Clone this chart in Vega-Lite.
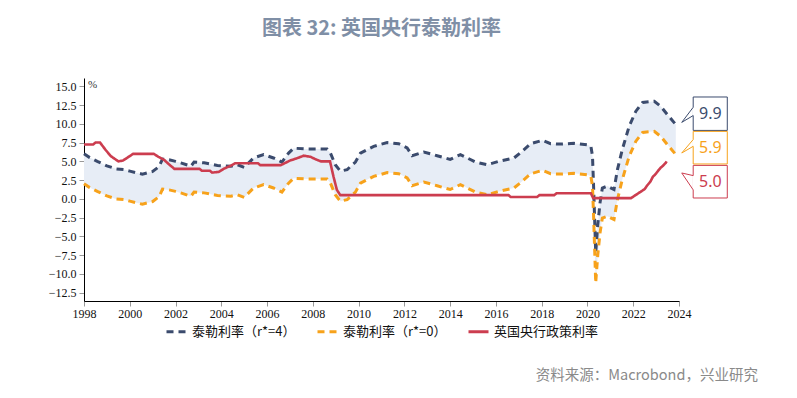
{
  "$schema": "https://vega.github.io/schema/vega-lite/v6.json",
  "width": 595,
  "height": 223,
  "autosize": {"type": "none"},
  "padding": {"left": 84, "top": 78, "right": 118, "bottom": 97},
  "background": "white",
  "title": {"text": "图表 32: 英国央行泰勒利率", "font": "Noto Sans CJK SC", "fontSize": 20, "fontWeight": "bold", "color": "#7f8fa6", "anchor": "middle", "offset": 39},
  "config": {
    "view": {"stroke": null},
    "axis": {"grid": false, "domainColor": "#000", "tickColor": "#999", "tickSize": 5, "labelFont": "Liberation Serif", "labelFontSize": 12, "labelColor": "#111", "title": null, "labelFlush": false}
  },
  "datasets": {
    "lines": [
      {"t":1998.0,"s":"r4","v":6.0},{"t":1998.25,"s":"r4","v":5.5},{"t":1998.58,"s":"r4","v":5.0},{"t":1999.0,"s":"r4","v":4.4},{"t":1999.4,"s":"r4","v":4.0},{"t":1999.75,"s":"r4","v":3.9},{"t":2000.0,"s":"r4","v":3.7},{"t":2000.33,"s":"r4","v":3.45},{"t":2000.55,"s":"r4","v":3.3},{"t":2001.0,"s":"r4","v":3.65},{"t":2001.28,"s":"r4","v":4.3},{"t":2001.43,"s":"r4","v":5.3},{"t":2001.72,"s":"r4","v":5.2},{"t":2002.0,"s":"r4","v":5.0},{"t":2002.23,"s":"r4","v":4.8},{"t":2002.67,"s":"r4","v":4.35},{"t":2002.81,"s":"r4","v":4.9},{"t":2003.25,"s":"r4","v":4.8},{"t":2003.83,"s":"r4","v":4.45},{"t":2004.42,"s":"r4","v":4.35},{"t":2004.71,"s":"r4","v":4.55},{"t":2005.0,"s":"r4","v":4.2},{"t":2005.41,"s":"r4","v":5.45},{"t":2005.85,"s":"r4","v":5.9},{"t":2006.28,"s":"r4","v":5.45},{"t":2006.65,"s":"r4","v":4.9},{"t":2006.94,"s":"r4","v":6.1},{"t":2007.16,"s":"r4","v":6.75},{"t":2007.75,"s":"r4","v":6.65},{"t":2008.62,"s":"r4","v":6.65},{"t":2008.77,"s":"r4","v":6.1},{"t":2008.98,"s":"r4","v":4.55},{"t":2009.2,"s":"r4","v":3.7},{"t":2009.5,"s":"r4","v":3.9},{"t":2009.86,"s":"r4","v":4.9},{"t":2010.08,"s":"r4","v":6.1},{"t":2010.66,"s":"r4","v":7.0},{"t":2011.25,"s":"r4","v":7.5},{"t":2011.75,"s":"r4","v":7.35},{"t":2012.12,"s":"r4","v":6.8},{"t":2012.34,"s":"r4","v":5.75},{"t":2012.85,"s":"r4","v":6.25},{"t":2013.43,"s":"r4","v":5.75},{"t":2014.0,"s":"r4","v":5.25},{"t":2014.45,"s":"r4","v":5.9},{"t":2015.11,"s":"r4","v":4.9},{"t":2015.62,"s":"r4","v":4.55},{"t":2016.13,"s":"r4","v":5.0},{"t":2016.79,"s":"r4","v":5.45},{"t":2017.15,"s":"r4","v":6.35},{"t":2017.52,"s":"r4","v":7.35},{"t":2018.03,"s":"r4","v":7.8},{"t":2018.39,"s":"r4","v":7.35},{"t":2018.83,"s":"r4","v":7.3},{"t":2019.41,"s":"r4","v":7.4},{"t":2020.0,"s":"r4","v":7.2},{"t":2020.15,"s":"r4","v":7.0},{"t":2020.22,"s":"r4","v":5.7},{"t":2020.27,"s":"r4","v":1.5},{"t":2020.36,"s":"r4","v":-7.2},{"t":2020.45,"s":"r4","v":-3.5},{"t":2020.55,"s":"r4","v":-0.5},{"t":2020.65,"s":"r4","v":1.45},{"t":2020.87,"s":"r4","v":1.7},{"t":2021.16,"s":"r4","v":1.25},{"t":2021.31,"s":"r4","v":3.9},{"t":2021.52,"s":"r4","v":6.55},{"t":2021.82,"s":"r4","v":9.65},{"t":2022.11,"s":"r4","v":11.65},{"t":2022.41,"s":"r4","v":12.85},{"t":2022.92,"s":"r4","v":13.0},{"t":2023.21,"s":"r4","v":12.3},{"t":2023.5,"s":"r4","v":11.2},{"t":2023.86,"s":"r4","v":9.9},
      {"t":1998.0,"s":"r0","v":2.0},{"t":1998.25,"s":"r0","v":1.5},{"t":1998.58,"s":"r0","v":1.0},{"t":1999.0,"s":"r0","v":0.4},{"t":1999.4,"s":"r0","v":0.0},{"t":1999.75,"s":"r0","v":-0.1},{"t":2000.0,"s":"r0","v":-0.3},{"t":2000.33,"s":"r0","v":-0.55},{"t":2000.55,"s":"r0","v":-0.7},{"t":2001.0,"s":"r0","v":-0.35},{"t":2001.28,"s":"r0","v":0.3},{"t":2001.43,"s":"r0","v":1.3},{"t":2001.72,"s":"r0","v":1.2},{"t":2002.0,"s":"r0","v":1.0},{"t":2002.23,"s":"r0","v":0.8},{"t":2002.67,"s":"r0","v":0.35},{"t":2002.81,"s":"r0","v":0.9},{"t":2003.25,"s":"r0","v":0.8},{"t":2003.83,"s":"r0","v":0.45},{"t":2004.42,"s":"r0","v":0.35},{"t":2004.71,"s":"r0","v":0.55},{"t":2005.0,"s":"r0","v":0.2},{"t":2005.41,"s":"r0","v":1.45},{"t":2005.85,"s":"r0","v":1.9},{"t":2006.28,"s":"r0","v":1.45},{"t":2006.65,"s":"r0","v":0.9},{"t":2006.94,"s":"r0","v":2.1},{"t":2007.16,"s":"r0","v":2.75},{"t":2007.75,"s":"r0","v":2.65},{"t":2008.62,"s":"r0","v":2.65},{"t":2008.77,"s":"r0","v":2.1},{"t":2008.98,"s":"r0","v":0.55},{"t":2009.2,"s":"r0","v":-0.3},{"t":2009.5,"s":"r0","v":-0.1},{"t":2009.86,"s":"r0","v":0.9},{"t":2010.08,"s":"r0","v":2.1},{"t":2010.66,"s":"r0","v":3.0},{"t":2011.25,"s":"r0","v":3.5},{"t":2011.75,"s":"r0","v":3.35},{"t":2012.12,"s":"r0","v":2.8},{"t":2012.34,"s":"r0","v":1.75},{"t":2012.85,"s":"r0","v":2.25},{"t":2013.43,"s":"r0","v":1.75},{"t":2014.0,"s":"r0","v":1.25},{"t":2014.45,"s":"r0","v":1.9},{"t":2015.11,"s":"r0","v":0.9},{"t":2015.62,"s":"r0","v":0.55},{"t":2016.13,"s":"r0","v":1.0},{"t":2016.79,"s":"r0","v":1.45},{"t":2017.15,"s":"r0","v":2.35},{"t":2017.52,"s":"r0","v":3.35},{"t":2018.03,"s":"r0","v":3.8},{"t":2018.39,"s":"r0","v":3.35},{"t":2018.83,"s":"r0","v":3.3},{"t":2019.41,"s":"r0","v":3.4},{"t":2020.0,"s":"r0","v":3.2},{"t":2020.15,"s":"r0","v":3.0},{"t":2020.22,"s":"r0","v":1.7},{"t":2020.27,"s":"r0","v":-2.5},{"t":2020.36,"s":"r0","v":-11.2},{"t":2020.45,"s":"r0","v":-7.5},{"t":2020.55,"s":"r0","v":-4.5},{"t":2020.65,"s":"r0","v":-2.55},{"t":2020.87,"s":"r0","v":-2.3},{"t":2021.16,"s":"r0","v":-2.75},{"t":2021.31,"s":"r0","v":-0.1},{"t":2021.52,"s":"r0","v":2.55},{"t":2021.82,"s":"r0","v":5.65},{"t":2022.11,"s":"r0","v":7.65},{"t":2022.41,"s":"r0","v":8.85},{"t":2022.92,"s":"r0","v":9.0},{"t":2023.21,"s":"r0","v":8.3},{"t":2023.5,"s":"r0","v":7.2},{"t":2023.86,"s":"r0","v":5.9},
      {"t":1998.0,"s":"policy","v":7.25},{"t":1998.4,"s":"policy","v":7.25},{"t":1998.5,"s":"policy","v":7.5},{"t":1998.7,"s":"policy","v":7.5},{"t":1998.95,"s":"policy","v":6.5},{"t":1999.17,"s":"policy","v":5.7},{"t":1999.5,"s":"policy","v":5.0},{"t":1999.7,"s":"policy","v":5.1},{"t":1999.9,"s":"policy","v":5.5},{"t":2000.15,"s":"policy","v":6.0},{"t":2001.05,"s":"policy","v":6.0},{"t":2001.25,"s":"policy","v":5.6},{"t":2001.5,"s":"policy","v":5.2},{"t":2001.75,"s":"policy","v":4.5},{"t":2001.95,"s":"policy","v":4.0},{"t":2003.05,"s":"policy","v":4.0},{"t":2003.15,"s":"policy","v":3.75},{"t":2003.5,"s":"policy","v":3.75},{"t":2003.6,"s":"policy","v":3.5},{"t":2003.9,"s":"policy","v":3.6},{"t":2004.1,"s":"policy","v":4.0},{"t":2004.4,"s":"policy","v":4.4},{"t":2004.6,"s":"policy","v":4.75},{"t":2005.6,"s":"policy","v":4.75},{"t":2005.7,"s":"policy","v":4.5},{"t":2006.6,"s":"policy","v":4.5},{"t":2006.8,"s":"policy","v":4.8},{"t":2007.0,"s":"policy","v":5.1},{"t":2007.3,"s":"policy","v":5.4},{"t":2007.6,"s":"policy","v":5.75},{"t":2007.9,"s":"policy","v":5.6},{"t":2008.1,"s":"policy","v":5.3},{"t":2008.35,"s":"policy","v":5.0},{"t":2008.75,"s":"policy","v":5.0},{"t":2008.9,"s":"policy","v":3.0},{"t":2009.05,"s":"policy","v":1.2},{"t":2009.2,"s":"policy","v":0.5},{"t":2016.55,"s":"policy","v":0.5},{"t":2016.65,"s":"policy","v":0.25},{"t":2017.8,"s":"policy","v":0.25},{"t":2017.9,"s":"policy","v":0.5},{"t":2018.55,"s":"policy","v":0.5},{"t":2018.65,"s":"policy","v":0.75},{"t":2020.15,"s":"policy","v":0.75},{"t":2020.25,"s":"policy","v":0.1},{"t":2021.9,"s":"policy","v":0.1},{"t":2022.05,"s":"policy","v":0.4},{"t":2022.15,"s":"policy","v":0.6},{"t":2022.35,"s":"policy","v":1.0},{"t":2022.5,"s":"policy","v":1.3},{"t":2022.6,"s":"policy","v":1.75},{"t":2022.75,"s":"policy","v":2.3},{"t":2022.85,"s":"policy","v":2.9},{"t":2023.0,"s":"policy","v":3.4},{"t":2023.1,"s":"policy","v":3.8},{"t":2023.2,"s":"policy","v":4.15},{"t":2023.3,"s":"policy","v":4.4},{"t":2023.42,"s":"policy","v":4.8},{"t":2023.46,"s":"policy","v":5.0}
    ],
    "boxes": [
      {"s":"r4","x1":2024.62,"x2":2026.11,"y1":13.57,"y2":9.12,"tx":2025.37,"ty":11.35,"label":"9.9","ga":12.2,"gb":11.1},
      {"s":"r0","x1":2024.62,"x2":2026.11,"y1":8.99,"y2":4.65,"tx":2025.37,"ty":6.82,"label":"5.9","ga":7.9,"gb":7.0},
      {"s":"policy","x1":2024.62,"x2":2026.11,"y1":4.46,"y2":0.12,"tx":2025.37,"ty":2.29,"label":"5.0","ga":3.1,"gb":1.2}
    ],
    "ptr": [
      {"s":"r4","o":1,"t":2024.62,"v":12.2},{"s":"r4","o":2,"t":2024.12,"v":10.19},{"s":"r4","o":3,"t":2024.62,"v":11.1},
      {"s":"r0","o":1,"t":2024.62,"v":7.9},{"s":"r0","o":2,"t":2024.12,"v":6.11},{"s":"r0","o":3,"t":2024.62,"v":7.0},
      {"s":"policy","o":1,"t":2024.62,"v":3.1},{"s":"policy","o":2,"t":2024.12,"v":3.45},{"s":"policy","o":3,"t":2024.62,"v":1.2}
    ]
  },
  "encoding": {
    "x": {"field": "t", "type": "quantitative", "scale": {"domain": [1998, 2024], "nice": false, "zero": false},
          "axis": {"values": [1998,2000,2002,2004,2006,2008,2010,2012,2014,2016,2018,2020,2022,2024], "format": "d", "labelPadding": 2}},
    "y": {"field": "v", "type": "quantitative", "scale": {"domain": [-13.6, 16.1], "nice": false, "zero": false},
          "axis": {"values": [-12.5,-10,-7.5,-5,-2.5,0,2.5,5,7.5,10,12.5,15], "format": ".1f", "labelPadding": 3}}
  },
  "layer": [
    {
      "data": {"name": "lines"},
      "transform": [{"filter": "datum.s != 'policy'"}, {"pivot": "s", "value": "v", "groupby": ["t"]}],
      "mark": {"type": "area", "color": "#e7edf6", "clip": false},
      "encoding": {"y": {"field": "r0", "type": "quantitative"}, "y2": {"field": "r4"}}
    },
    {
      "data": {"name": "lines"},
      "transform": [{"filter": "datum.s != 'policy'"}],
      "mark": {"type": "line", "strokeWidth": 3, "clip": false},
      "encoding": {
        "color": {"field": "s", "type": "nominal",
          "scale": {"domain": ["r4","r0","policy"], "range": ["#3b4b6d","#f7a21b","#cc3d4f"]},
          "legend": {"orient": "none", "direction": "horizontal", "legendX": 81, "legendY": 242, "title": null,
            "symbolType": "stroke", "symbolSize": 400, "symbolStrokeWidth": 3, "labelFont": "Noto Sans CJK SC", "labelFontSize": 13, "labelColor": "#111", "columnPadding": 15, "labelOffset": 4,
            "labelExpr": "datum.label == 'r4' ? '泰勒利率（r*=4）' : datum.label == 'r0' ? '泰勒利率（r*=0）' : '英国央行政策利率'"}},
        "strokeDash": {"field": "s", "type": "nominal",
          "scale": {"domain": ["r4","r0","policy"], "range": [[7,5],[7,5],[1,0]]}}
      }
    },
    {
      "data": {"name": "lines"},
      "transform": [{"filter": "datum.s == 'policy'"}],
      "mark": {"type": "line", "strokeWidth": 2.6, "clip": false},
      "encoding": {
        "color": {"field": "s", "type": "nominal"},
        "strokeDash": {"field": "s", "type": "nominal"}
      }
    },
    {
      "data": {"name": "boxes"},
      "mark": {"type": "rect", "fill": "white", "strokeWidth": 1, "clip": false},
      "encoding": {
        "x": {"field": "x1", "type": "quantitative"}, "x2": {"field": "x2"},
        "y": {"field": "y1", "type": "quantitative"}, "y2": {"field": "y2"},
        "stroke": {"field": "s", "type": "nominal", "scale": {"domain": ["r4","r0","policy"], "range": ["#3b4b6d","#f7a21b","#cc3d4f"]}, "legend": null}
      }
    },
    {
      "data": {"name": "boxes"},
      "mark": {"type": "rule", "color": "white", "strokeWidth": 2, "clip": false},
      "encoding": {
        "x": {"field": "x1", "type": "quantitative"},
        "y": {"field": "ga", "type": "quantitative"}, "y2": {"field": "gb"}
      }
    },
    {
      "data": {"name": "ptr"},
      "mark": {"type": "line", "strokeWidth": 1, "clip": false},
      "encoding": {
        "stroke": {"field": "s", "type": "nominal", "legend": null},
        "order": {"field": "o", "type": "quantitative"}
      }
    },
    {
      "data": {"name": "boxes"},
      "mark": {"type": "text", "font": "Noto Sans", "fontSize": 16, "align": "center", "baseline": "middle", "clip": false},
      "encoding": {
        "x": {"field": "tx", "type": "quantitative"},
        "y": {"field": "ty", "type": "quantitative"},
        "text": {"field": "label"},
        "fill": {"field": "s", "type": "nominal", "scale": {"domain": ["r4","r0","policy"], "range": ["#3b4b6d","#f7a21b","#cc3d4f"]}, "legend": null}
      }
    },
    {
      "data": {"values": [{"t": 1998.38, "v": 15.2, "label": "%"}]},
      "mark": {"type": "text", "font": "Liberation Serif", "fontSize": 11, "color": "#333", "align": "center", "baseline": "middle", "clip": false},
      "encoding": {"text": {"field": "label"}}
    },
    {
      "data": {"values": [{"t": 2027.45, "v": -23.55, "label": "资料来源：Macrobond，兴业研究"}]},
      "mark": {"type": "text", "font": "Noto Sans CJK SC", "fontSize": 14.5, "color": "#8a8a8a", "align": "right", "baseline": "middle", "clip": false},
      "encoding": {"text": {"field": "label"}}
    }
  ]
}
